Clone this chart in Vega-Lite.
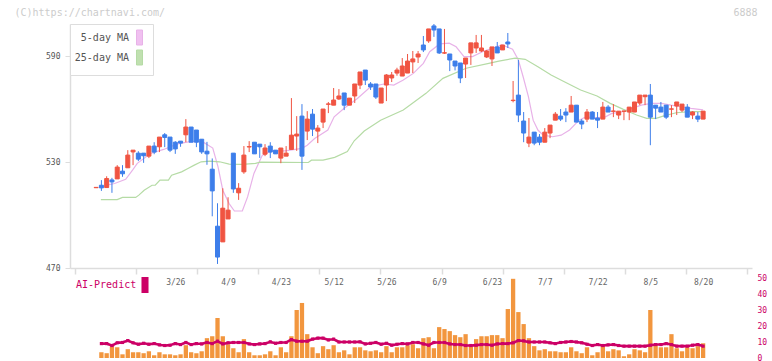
{
"$schema": "https://vega.github.io/schema/vega-lite/v6.json",
"autosize": {"type": "none"},
"width": 682,
"height": 334,
"padding": {"left": 70, "top": 24, "right": 20, "bottom": 3},
"background": "#ffffff",
"config": {"view": {"stroke": null}, "font": "DejaVu Sans Mono"},
"datasets": {
"candles": [
{"i":0,"o":515.5,"h":515.7,"l":515.5,"c":515.7},
{"i":1,"o":516.9,"h":519.8,"l":513.7,"c":515.4},
{"i":2,"o":515.6,"h":522.0,"l":515.6,"c":520.7},
{"i":3,"o":519.9,"h":521.1,"l":512.6,"c":518.8},
{"i":4,"o":520.5,"h":528.3,"l":520.5,"c":527.2},
{"i":5,"o":524.9,"h":528.3,"l":521.7,"c":523.4},
{"i":6,"o":526.8,"h":536.8,"l":526.8,"c":534.0},
{"i":7,"o":535.8,"h":536.8,"l":528.3,"c":536.8},
{"i":8,"o":535.1,"h":536.2,"l":530.6,"c":531.7},
{"i":9,"o":535.1,"h":535.1,"l":529.6,"c":533.6},
{"i":10,"o":533.4,"h":539.1,"l":532.3,"c":539.1},
{"i":11,"o":539.1,"h":541.3,"l":534.5,"c":535.7},
{"i":12,"o":538.7,"h":544.2,"l":535.7,"c":544.2},
{"i":13,"o":545.5,"h":546.5,"l":538.5,"c":544.0},
{"i":14,"o":544.2,"h":544.2,"l":535.7,"c":536.8},
{"i":15,"o":541.3,"h":541.9,"l":534.7,"c":537.5},
{"i":16,"o":541.9,"h":541.9,"l":538.7,"c":540.8},
{"i":17,"o":545.5,"h":554.4,"l":541.3,"c":549.9},
{"i":18,"o":549.9,"h":549.9,"l":541.3,"c":541.3},
{"i":19,"o":548.2,"h":548.2,"l":538.5,"c":541.3},
{"i":20,"o":543.0,"h":543.0,"l":534.7,"c":535.8},
{"i":21,"o":536.2,"h":541.5,"l":528.5,"c":534.7},
{"i":22,"o":526.0,"h":532.1,"l":499.3,"c":513.7},
{"i":23,"o":493.7,"h":506.7,"l":472.3,"c":476.2},
{"i":24,"o":484.8,"h":515.2,"l":484.8,"c":503.9},
{"i":25,"o":497.8,"h":510.1,"l":497.8,"c":502.8},
{"i":26,"o":535.1,"h":535.1,"l":512.6,"c":514.8},
{"i":27,"o":512.6,"h":518.1,"l":508.6,"c":515.2},
{"i":28,"o":524.5,"h":539.1,"l":523.4,"c":534.0},
{"i":29,"o":538.6,"h":541.9,"l":535.7,"c":538.8},
{"i":30,"o":541.3,"h":541.3,"l":534.7,"c":534.7},
{"i":31,"o":540.2,"h":540.2,"l":532.4,"c":538.7},
{"i":32,"o":534.5,"h":540.2,"l":533.4,"c":538.0},
{"i":33,"o":539.1,"h":541.3,"l":532.3,"c":535.7},
{"i":34,"o":536.8,"h":536.8,"l":534.7,"c":534.7},
{"i":35,"o":532.3,"h":538.0,"l":529.4,"c":538.0},
{"i":36,"o":533.4,"h":539.1,"l":533.4,"c":535.1},
{"i":37,"o":537.2,"h":566.3,"l":537.2,"c":545.3},
{"i":38,"o":544.8,"h":556.1,"l":536.4,"c":545.9},
{"i":39,"o":556.1,"h":562.9,"l":525.6,"c":533.4},
{"i":40,"o":547.6,"h":558.9,"l":542.5,"c":554.4},
{"i":41,"o":557.2,"h":560.1,"l":544.8,"c":548.7},
{"i":42,"o":547.6,"h":551.0,"l":540.8,"c":549.3},
{"i":43,"o":552.7,"h":560.1,"l":549.3,"c":560.1},
{"i":44,"o":562.8,"h":564.1,"l":557.8,"c":563.0},
{"i":45,"o":562.3,"h":572.0,"l":562.3,"c":565.2},
{"i":46,"o":565.8,"h":571.4,"l":565.2,"c":567.5},
{"i":47,"o":569.2,"h":569.2,"l":559.5,"c":562.3},
{"i":48,"o":562.3,"h":566.3,"l":562.3,"c":566.3},
{"i":49,"o":567.5,"h":574.3,"l":563.5,"c":574.3},
{"i":50,"o":573.7,"h":581.1,"l":571.4,"c":581.1},
{"i":51,"o":582.2,"h":582.2,"l":573.7,"c":576.5},
{"i":52,"o":574.3,"h":575.4,"l":570.9,"c":572.6},
{"i":53,"o":574.3,"h":574.3,"l":565.8,"c":566.9},
{"i":54,"o":563.5,"h":572.0,"l":563.5,"c":572.0},
{"i":55,"o":573.7,"h":579.9,"l":564.6,"c":579.4},
{"i":56,"o":577.7,"h":581.1,"l":575.4,"c":579.4},
{"i":57,"o":580.5,"h":583.5,"l":579.0,"c":582.2},
{"i":58,"o":578.8,"h":589.0,"l":578.8,"c":584.5},
{"i":59,"o":580.5,"h":591.3,"l":580.5,"c":587.3},
{"i":60,"o":586.8,"h":593.0,"l":580.5,"c":588.5},
{"i":61,"o":589.6,"h":593.0,"l":586.2,"c":591.3},
{"i":62,"o":596.4,"h":601.5,"l":592.4,"c":593.6},
{"i":63,"o":598.7,"h":605.5,"l":597.6,"c":605.5},
{"i":64,"o":607.2,"h":608.3,"l":601.0,"c":604.9},
{"i":65,"o":605.5,"h":605.5,"l":591.3,"c":591.9},
{"i":66,"o":591.8,"h":605.5,"l":591.3,"c":592.0},
{"i":67,"o":591.3,"h":591.3,"l":581.6,"c":587.9},
{"i":68,"o":587.3,"h":587.3,"l":582.0,"c":584.5},
{"i":69,"o":586.2,"h":586.2,"l":574.8,"c":577.7},
{"i":70,"o":585.6,"h":589.0,"l":577.7,"c":589.0},
{"i":71,"o":591.9,"h":597.6,"l":585.1,"c":597.6},
{"i":72,"o":594.7,"h":602.1,"l":591.9,"c":597.6},
{"i":73,"o":593.0,"h":602.1,"l":592.4,"c":594.7},
{"i":74,"o":589.6,"h":593.6,"l":589.0,"c":593.0},
{"i":75,"o":588.5,"h":595.3,"l":584.5,"c":595.3},
{"i":76,"o":595.3,"h":598.1,"l":591.9,"c":591.9},
{"i":77,"o":593.6,"h":596.4,"l":593.6,"c":596.4},
{"i":78,"o":598.1,"h":603.2,"l":594.7,"c":597.0},
{"i":79,"o":564.9,"h":576.0,"l":563.9,"c":565.1},
{"i":80,"o":568.0,"h":587.9,"l":552.7,"c":556.7},
{"i":81,"o":553.3,"h":558.4,"l":541.3,"c":546.5},
{"i":82,"o":540.8,"h":555.0,"l":538.5,"c":544.2},
{"i":83,"o":547.0,"h":547.0,"l":539.6,"c":540.8},
{"i":84,"o":544.2,"h":545.9,"l":539.6,"c":541.3},
{"i":85,"o":541.3,"h":549.3,"l":541.3,"c":547.0},
{"i":86,"o":546.5,"h":551.0,"l":543.6,"c":551.0},
{"i":87,"o":553.8,"h":558.4,"l":553.8,"c":557.2},
{"i":88,"o":556.1,"h":560.1,"l":553.3,"c":554.4},
{"i":89,"o":558.4,"h":560.6,"l":552.7,"c":556.7},
{"i":90,"o":558.4,"h":567.5,"l":558.4,"c":562.3},
{"i":91,"o":562.3,"h":562.3,"l":552.7,"c":552.7},
{"i":92,"o":553.3,"h":554.4,"l":548.7,"c":551.6},
{"i":93,"o":554.4,"h":560.1,"l":552.7,"c":558.4},
{"i":94,"o":558.4,"h":558.9,"l":554.4,"c":554.4},
{"i":95,"o":555.0,"h":558.4,"l":549.3,"c":553.8},
{"i":96,"o":554.4,"h":564.1,"l":554.4,"c":561.2},
{"i":97,"o":561.2,"h":562.3,"l":558.4,"c":558.4},
{"i":98,"o":558.8,"h":562.9,"l":555.5,"c":559.0},
{"i":99,"o":556.7,"h":558.9,"l":554.4,"c":558.9},
{"i":100,"o":558.8,"h":559.0,"l":553.8,"c":559.0},
{"i":101,"o":558.4,"h":561.2,"l":553.8,"c":561.2},
{"i":102,"o":558.4,"h":564.1,"l":558.4,"c":564.1},
{"i":103,"o":563.5,"h":568.0,"l":562.3,"c":568.0},
{"i":104,"o":567.1,"h":568.0,"l":562.3,"c":568.0},
{"i":105,"o":568.0,"h":574.3,"l":539.6,"c":555.5},
{"i":106,"o":562.3,"h":562.3,"l":554.4,"c":560.6},
{"i":107,"o":561.2,"h":564.1,"l":558.4,"c":558.4},
{"i":108,"o":562.3,"h":562.3,"l":554.4,"c":555.5},
{"i":109,"o":560.0,"h":562.3,"l":555.5,"c":560.2},
{"i":110,"o":561.8,"h":564.1,"l":556.7,"c":564.1},
{"i":111,"o":559.5,"h":562.9,"l":558.4,"c":562.9},
{"i":112,"o":561.2,"h":562.9,"l":555.5,"c":555.5},
{"i":113,"o":556.7,"h":558.9,"l":554.4,"c":558.4},
{"i":114,"o":556.1,"h":558.4,"l":552.7,"c":554.4},
{"i":115,"o":554.4,"h":558.9,"l":554.4,"c":558.9}
],
"vol": [
{"i":1,"v":3.6,"ai":9.0},{"i":2,"v":3.0,"ai":9.0},{"i":3,"v":7.4,"ai":7.8},{"i":4,"v":6.7,"ai":9.5},{"i":5,"v":2.3,"ai":9.7},
{"i":6,"v":5.5,"ai":10.9},{"i":7,"v":3.6,"ai":9.5},{"i":8,"v":3.6,"ai":8.6},{"i":9,"v":3.0,"ai":9.2},{"i":10,"v":4.2,"ai":8.6},
{"i":11,"v":1.7,"ai":9.0},{"i":12,"v":3.6,"ai":8.2},{"i":13,"v":2.3,"ai":7.8},{"i":14,"v":2.3,"ai":8.0},{"i":15,"v":1.7,"ai":9.0},
{"i":16,"v":2.3,"ai":8.4},{"i":17,"v":8.0,"ai":9.7},{"i":18,"v":3.6,"ai":8.4},{"i":19,"v":3.0,"ai":9.0},{"i":20,"v":4.2,"ai":8.8},
{"i":21,"v":12.4,"ai":9.7},{"i":22,"v":13.6,"ai":9.0},{"i":23,"v":25.0,"ai":10.5},{"i":24,"v":13.6,"ai":8.8},{"i":25,"v":8.6,"ai":9.5},
{"i":26,"v":6.1,"ai":9.7},{"i":27,"v":3.6,"ai":9.7},{"i":28,"v":11.8,"ai":9.7},{"i":29,"v":3.6,"ai":8.8},{"i":30,"v":1.7,"ai":8.4},
{"i":31,"v":1.7,"ai":8.8},{"i":32,"v":2.3,"ai":9.0},{"i":33,"v":4.2,"ai":10.1},{"i":34,"v":1.7,"ai":9.2},{"i":35,"v":6.7,"ai":9.7},
{"i":36,"v":3.6,"ai":9.7},{"i":37,"v":13.6,"ai":11.5},{"i":38,"v":30.0,"ai":10.5},{"i":39,"v":34.4,"ai":10.5},{"i":40,"v":14.9,"ai":10.5},
{"i":41,"v":6.7,"ai":11.8},{"i":42,"v":3.0,"ai":12.4},{"i":43,"v":7.4,"ai":12.4},{"i":44,"v":5.5,"ai":11.3},{"i":45,"v":8.0,"ai":11.8},
{"i":46,"v":3.6,"ai":10.0},{"i":47,"v":4.8,"ai":10.0},{"i":48,"v":2.3,"ai":10.0},{"i":49,"v":6.7,"ai":10.0},{"i":50,"v":6.7,"ai":10.1},
{"i":51,"v":4.8,"ai":8.8},{"i":52,"v":4.2,"ai":9.2},{"i":53,"v":4.8,"ai":9.7},{"i":54,"v":3.6,"ai":8.6},{"i":55,"v":7.4,"ai":9.2},
{"i":56,"v":3.6,"ai":8.0},{"i":57,"v":6.7,"ai":8.6},{"i":58,"v":6.7,"ai":9.0},{"i":59,"v":8.0,"ai":8.8},{"i":60,"v":8.6,"ai":9.7},
{"i":61,"v":6.1,"ai":9.7},{"i":62,"v":12.4,"ai":8.8},{"i":63,"v":13.0,"ai":8.0},{"i":64,"v":6.1,"ai":9.7},{"i":65,"v":19.3,"ai":9.7},
{"i":66,"v":18.1,"ai":9.7},{"i":67,"v":16.8,"ai":8.8},{"i":68,"v":14.3,"ai":8.4},{"i":69,"v":13.0,"ai":8.4},{"i":70,"v":14.9,"ai":7.8},
{"i":71,"v":7.4,"ai":7.8},{"i":72,"v":11.8,"ai":8.0},{"i":73,"v":13.6,"ai":8.4},{"i":74,"v":13.6,"ai":8.4},{"i":75,"v":14.3,"ai":8.0},
{"i":76,"v":14.3,"ai":8.8},{"i":77,"v":12.4,"ai":9.0},{"i":78,"v":30.6,"ai":9.0},{"i":79,"v":49.5,"ai":9.5},{"i":80,"v":28.7,"ai":10.9},
{"i":81,"v":21.2,"ai":10.7},{"i":82,"v":12.4,"ai":10.0},{"i":83,"v":7.4,"ai":10.0},{"i":84,"v":4.8,"ai":10.0},{"i":85,"v":5.5,"ai":10.0},
{"i":86,"v":4.2,"ai":9.5},{"i":87,"v":4.2,"ai":9.0},{"i":88,"v":3.6,"ai":9.7},{"i":89,"v":3.6,"ai":10.0},{"i":90,"v":6.7,"ai":10.3},
{"i":91,"v":4.2,"ai":10.0},{"i":92,"v":3.0,"ai":9.5},{"i":93,"v":6.7,"ai":8.6},{"i":94,"v":1.7,"ai":7.8},{"i":95,"v":3.6,"ai":8.4},
{"i":96,"v":7.4,"ai":7.8},{"i":97,"v":4.2,"ai":8.2},{"i":98,"v":5.5,"ai":8.4},{"i":99,"v":4.8,"ai":7.8},{"i":100,"v":1.1,"ai":7.4},
{"i":101,"v":2.3,"ai":7.4},{"i":102,"v":5.5,"ai":7.4},{"i":103,"v":4.8,"ai":7.4},{"i":104,"v":3.6,"ai":7.4},{"i":105,"v":30.0,"ai":8.0},
{"i":106,"v":8.0,"ai":8.4},{"i":107,"v":6.7,"ai":8.4},{"i":108,"v":6.7,"ai":9.0},{"i":109,"v":14.9,"ai":8.4},{"i":110,"v":6.1,"ai":7.4},
{"i":111,"v":4.2,"ai":7.4},{"i":112,"v":6.7,"ai":7.4},{"i":113,"v":6.1,"ai":8.0},{"i":114,"v":7.4,"ai":8.4},{"i":115,"v":9.2,"ai":7.4}
],
"ma": [
{"ma":"5-day MA","i":2,"p":517.0},{"ma":"5-day MA","i":3.5,"p":517.9},{"ma":"5-day MA","i":5.6,"p":520.3},{"ma":"5-day MA","i":6.9,"p":525.5},
{"ma":"5-day MA","i":7.8,"p":529.3},{"ma":"5-day MA","i":10.3,"p":534.9},{"ma":"5-day MA","i":12.8,"p":537.2},{"ma":"5-day MA","i":15.3,"p":540.2},
{"ma":"5-day MA","i":17.2,"p":541.3},{"ma":"5-day MA","i":19,"p":541.7},{"ma":"5-day MA","i":20.3,"p":541.3},{"ma":"5-day MA","i":22.1,"p":538.0},
{"ma":"5-day MA","i":23.1,"p":527.3},{"ma":"5-day MA","i":24,"p":514.1},{"ma":"5-day MA","i":25.2,"p":506.5},{"ma":"5-day MA","i":26.2,"p":502.3},
{"ma":"5-day MA","i":27.7,"p":502.3},{"ma":"5-day MA","i":28.7,"p":510.3},{"ma":"5-day MA","i":29.9,"p":523.6},{"ma":"5-day MA","i":31.5,"p":534.0},
{"ma":"5-day MA","i":33.3,"p":536.5},{"ma":"5-day MA","i":35.8,"p":536.4},{"ma":"5-day MA","i":39,"p":537.8},{"ma":"5-day MA","i":40,"p":539.6},
{"ma":"5-day MA","i":41.4,"p":543.4},{"ma":"5-day MA","i":43.9,"p":548.2},{"ma":"5-day MA","i":45.1,"p":555.7},{"ma":"5-day MA","i":47,"p":560.5},
{"ma":"5-day MA","i":49.5,"p":566.1},{"ma":"5-day MA","i":52,"p":572.7},{"ma":"5-day MA","i":54.5,"p":574.3},{"ma":"5-day MA","i":56.4,"p":573.7},
{"ma":"5-day MA","i":58.2,"p":576.5},{"ma":"5-day MA","i":60.1,"p":580.3},{"ma":"5-day MA","i":62,"p":586.0},{"ma":"5-day MA","i":63.2,"p":592.6},
{"ma":"5-day MA","i":65.1,"p":597.0},{"ma":"5-day MA","i":66.9,"p":597.4},{"ma":"5-day MA","i":68.2,"p":595.4},{"ma":"5-day MA","i":69.7,"p":589.8},
{"ma":"5-day MA","i":71.3,"p":589.8},{"ma":"5-day MA","i":73.2,"p":592.6},{"ma":"5-day MA","i":75,"p":594.5},{"ma":"5-day MA","i":76.9,"p":596.4},
{"ma":"5-day MA","i":78.9,"p":594.0},{"ma":"5-day MA","i":80,"p":587.9},{"ma":"5-day MA","i":80.9,"p":578.4},{"ma":"5-day MA","i":81.9,"p":567.1},
{"ma":"5-day MA","i":82.8,"p":553.8},{"ma":"5-day MA","i":83.7,"p":548.2},{"ma":"5-day MA","i":84.7,"p":545.3},{"ma":"5-day MA","i":86.5,"p":544.4},
{"ma":"5-day MA","i":88.1,"p":545.3},{"ma":"5-day MA","i":89.7,"p":548.2},{"ma":"5-day MA","i":91.5,"p":553.8},{"ma":"5-day MA","i":92.8,"p":555.7},
{"ma":"5-day MA","i":94.6,"p":555.1},{"ma":"5-day MA","i":96.5,"p":555.7},{"ma":"5-day MA","i":97.7,"p":557.6},{"ma":"5-day MA","i":99.6,"p":558.4},
{"ma":"5-day MA","i":101.5,"p":560.5},{"ma":"5-day MA","i":103.3,"p":562.3},{"ma":"5-day MA","i":105.2,"p":563.3},{"ma":"5-day MA","i":107.1,"p":563.3},
{"ma":"5-day MA","i":108.9,"p":562.3},{"ma":"5-day MA","i":110.8,"p":561.4},{"ma":"5-day MA","i":112.7,"p":560.5},{"ma":"5-day MA","i":115,"p":559.6},
{"ma":"25-day MA","i":0.9,"p":508.8},{"ma":"25-day MA","i":4,"p":508.8},{"ma":"25-day MA","i":5,"p":510.0},{"ma":"25-day MA","i":7.5,"p":510.0},
{"ma":"25-day MA","i":8.1,"p":511.3},{"ma":"25-day MA","i":9.1,"p":514.1},{"ma":"25-day MA","i":10.6,"p":516.9},{"ma":"25-day MA","i":11.2,"p":516.9},
{"ma":"25-day MA","i":12.1,"p":519.8},{"ma":"25-day MA","i":13.7,"p":519.8},{"ma":"25-day MA","i":14.3,"p":522.6},{"ma":"25-day MA","i":16.2,"p":524.5},
{"ma":"25-day MA","i":17.4,"p":526.4},{"ma":"25-day MA","i":18.6,"p":528.3},{"ma":"25-day MA","i":19.9,"p":530.2},{"ma":"25-day MA","i":21.5,"p":530.6},
{"ma":"25-day MA","i":23.4,"p":530.2},{"ma":"25-day MA","i":25.2,"p":528.9},{"ma":"25-day MA","i":27.7,"p":528.7},{"ma":"25-day MA","i":30.2,"p":529.3},
{"ma":"25-day MA","i":31.1,"p":530.0},{"ma":"25-day MA","i":40.2,"p":529.8},{"ma":"25-day MA","i":40.8,"p":531.1},{"ma":"25-day MA","i":43,"p":531.1},
{"ma":"25-day MA","i":45.2,"p":532.7},{"ma":"25-day MA","i":47.6,"p":536.0},{"ma":"25-day MA","i":48.9,"p":542.1},{"ma":"25-day MA","i":50.8,"p":547.6},
{"ma":"25-day MA","i":53.9,"p":553.8},{"ma":"25-day MA","i":58.2,"p":559.5},{"ma":"25-day MA","i":62.5,"p":569.0},{"ma":"25-day MA","i":65.7,"p":577.5},
{"ma":"25-day MA","i":70.1,"p":583.2},{"ma":"25-day MA","i":74.4,"p":586.0},{"ma":"25-day MA","i":76.3,"p":587.3},{"ma":"25-day MA","i":79.4,"p":588.9},
{"ma":"25-day MA","i":81.3,"p":588.3},{"ma":"25-day MA","i":83.7,"p":584.1},{"ma":"25-day MA","i":86.2,"p":579.4},{"ma":"25-day MA","i":88.7,"p":575.6},
{"ma":"25-day MA","i":91.8,"p":570.9},{"ma":"25-day MA","i":94.9,"p":567.5},{"ma":"25-day MA","i":97.4,"p":563.3},{"ma":"25-day MA","i":99.9,"p":559.9},
{"ma":"25-day MA","i":102.4,"p":556.7},{"ma":"25-day MA","i":104.3,"p":554.8},{"ma":"25-day MA","i":106.1,"p":554.8},{"ma":"25-day MA","i":107.4,"p":556.1},
{"ma":"25-day MA","i":109.9,"p":558.0},{"ma":"25-day MA","i":112.4,"p":558.6},{"ma":"25-day MA","i":115,"p":558.6}
]
},
"layer": [
{
"encoding": {
"x": {"field": "i", "type": "quantitative",
"scale": {"domain": [-4, 123.314], "nice": false, "zero": false},
"axis": {"orient": "bottom", "offset": -90, "values": [-4, 7.574, 19.148, 30.722, 42.296, 53.87, 65.444, 77.018, 88.592, 100.166, 111.74, 123.314],
"labels": false, "grid": false, "title": null, "domainColor": "#dddddd", "tickColor": "#dddddd", "tickSize": 6, "domainWidth": 1.5, "tickWidth": 1.5}}
},
"layer": [
{
"data": {"name": "ma"},
"mark": {"type": "line", "strokeWidth": 1.2},
"encoding": {
"y": {"field": "p", "type": "quantitative", "scale": {"domain": [470, 608.3], "range": [244, 0], "nice": false, "zero": false},
"axis": {"values": [470, 530, 590], "grid": false, "domainColor": "#dddddd", "tickColor": "#dddddd", "tickSize": 5, "domainWidth": 1.5,
"labelFont": "DejaVu Sans Mono", "labelFontSize": 8, "labelColor": "#555555", "labelPadding": 5, "labelFlush": false,
"title": "(C)https://chartnavi.com/", "titleX": -56, "titleY": -12, "titleAngle": 0, "titleAlign": "left", "titleBaseline": "middle",
"titleFont": "DejaVu Sans Mono", "titleFontSize": 10, "titleFontWeight": "normal", "titleColor": "#cccccc"}},
"stroke": {"field": "ma", "type": "nominal",
"scale": {"domain": ["5-day MA", "25-day MA"], "range": ["#e8b2e8", "#b5dba5"]},
"legend": {"title": null, "orient": "none", "legendX": 0, "legendY": 0, "direction": "vertical",
"symbolType": "M-0.6,-1.5H0.6V1.5H-0.6Z", "symbolSize": 100, "symbolStrokeWidth": 1,
"labelFont": "DejaVu Sans Mono", "labelFontSize": 10, "labelColor": "#555555", "labelAlign": "right",
"labelOffset": -16, "symbolOffset": 56, "padding": 8, "rowPadding": 1,
"strokeColor": "#dddddd", "fillColor": "#ffffff",
"encode": {"symbols": {"update": {"fill": {"signal": "datum.value === '5-day MA' ? '#f0c0f0' : '#c0e0b0'"}, "stroke": {"value": "#666666"}, "strokeWidth": {"value": 1}}}}}},
"order": {"field": "i", "type": "quantitative"}
}
},
{
"data": {"name": "candles"},
"mark": {"type": "rule", "strokeWidth": 1},
"encoding": {
"y": {"field": "l", "type": "quantitative", "scale": {"domain": [470, 608.3], "range": [244, 0], "nice": false, "zero": false}},
"y2": {"field": "h"},
"stroke": {"condition": {"test": "datum.c >= datum.o", "value": "#f05442"}, "value": "#3d7eea"}
}
},
{
"data": {"name": "candles"},
"mark": {"type": "bar", "size": 4, "strokeWidth": 1},
"encoding": {
"y": {"field": "o", "type": "quantitative", "scale": {"domain": [470, 608.3], "range": [244, 0], "nice": false, "zero": false}},
"y2": {"field": "c"},
"fill": {"condition": {"test": "datum.c >= datum.o", "value": "#f05442"}, "value": "#3d7eea"},
"stroke": {"condition": {"test": "datum.c >= datum.o", "value": "#f05442"}, "value": "#3d7eea"}
}
}
]
},
{
"data": {"name": "vol"},
"encoding": {
"x": {"field": "i", "type": "quantitative",
"scale": {"domain": [-4, 123.314], "nice": false, "zero": false},
"axis": {"orient": "bottom", "offset": -90, "values": [15, 25, 35, 45, 55, 65, 75, 85, 95, 105, 115],
"labelExpr": "datum.value == 15 ? '3/26' : datum.value == 25 ? '4/9' : datum.value == 35 ? '4/23' : datum.value == 45 ? '5/12' : datum.value == 55 ? '5/26' : datum.value == 65 ? '6/9' : datum.value == 75 ? '6/23' : datum.value == 85 ? '7/7' : datum.value == 95 ? '7/22' : datum.value == 105 ? '8/5' : '8/20'",
"ticks": false, "domain": false, "grid": false, "title": null, "labelFont": "DejaVu Sans Mono", "labelFontSize": 8,
"labelColor": "#666666", "labelPadding": 10, "labelFlush": false, "labelOverlap": false}}
},
"layer": [
{
"mark": {"type": "bar", "size": 4.3, "color": "#f2963e"},
"encoding": {
"y": {"field": "v", "type": "quantitative", "scale": {"domain": [0, 50], "range": [334, 254], "nice": false},
"axis": {"orient": "right", "values": [0, 10, 20, 30, 40, 50], "domain": false, "ticks": false, "grid": false,
"labelFont": "DejaVu Sans Mono", "labelFontSize": 8, "labelColor": "#cc0066", "labelPadding": 5, "labelFlush": false,
"title": "6888", "titleX": 5, "titleY": -12, "titleAngle": 0, "titleAlign": "right", "titleBaseline": "middle",
"titleFont": "DejaVu Sans Mono", "titleFontSize": 10, "titleFontWeight": "normal", "titleColor": "#cccccc"}}
}
},
{
"mark": {"type": "line", "strokeWidth": 2.6, "color": "#cc0066", "point": {"shape": "square", "size": 10, "filled": true, "color": "#cc0066"}},
"encoding": {
"y": {"field": "ai", "type": "quantitative", "scale": {"domain": [0, 50], "range": [334, 254], "nice": false}},
"strokeDash": {"datum": "AI-Predict", "type": "nominal", "scale": {"domain": ["AI-Predict"], "range": [[1, 0]]},
"legend": {"title": "AI-Predict", "titleOrient": "left", "orient": "none", "legendX": 6, "legendY": 253,
"titleFont": "DejaVu Sans Mono", "titleFontSize": 10, "titleColor": "#cc0066", "titleFontWeight": "normal",
"titlePadding": 0, "titleBaseline": "middle", "titleAnchor": "middle",
"labelExpr": "''", "labelOffset": 0, "symbolType": "M-0.44,-1H0.44V1H-0.44Z", "symbolSize": 256, "symbolOffset": 0, "padding": 0,
"symbolFillColor": "#cc0066", "symbolStrokeColor": "#cc0066", "symbolOpacity": 1,
"encode": {"symbols": {"update": {"fill": {"signal": "'#cc0066'"}, "fillOpacity": {"value": 1}, "opacity": {"value": 1}, "stroke": {"signal": "'#cc0066'"}, "strokeWidth": {"value": 0}, "strokeDash": {"value": [1, 0]}}}}}}
}
}
]
}
],
"resolve": {"scale": {"y": "independent"}, "axis": {"x": "independent", "y": "independent"}}
}
